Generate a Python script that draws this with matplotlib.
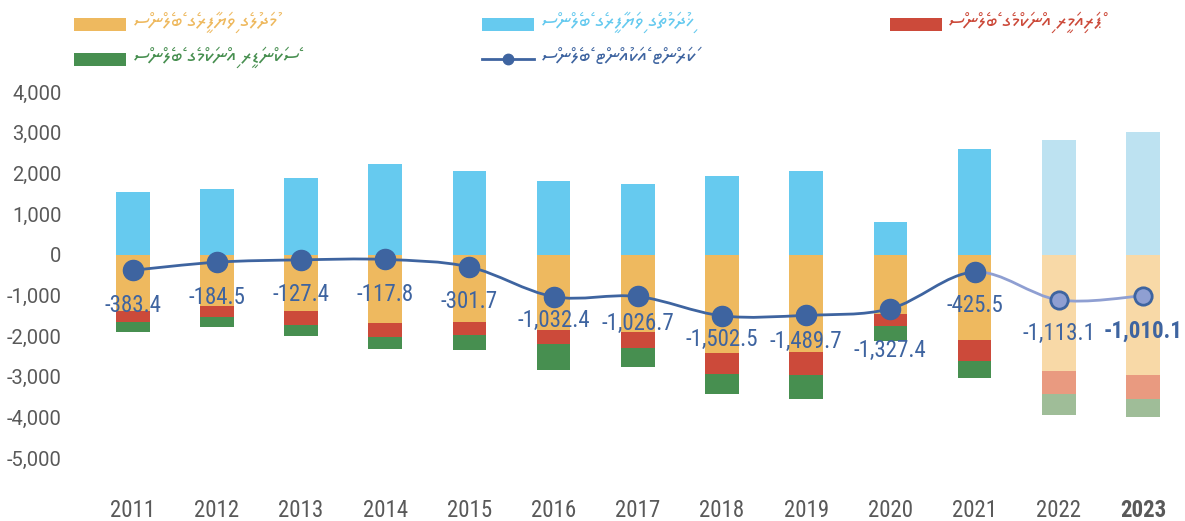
import unicodedata
import matplotlib
matplotlib.use("Agg")
import matplotlib.pyplot as plt
from matplotlib.path import Path
from matplotlib.patches import PathPatch, Rectangle
from matplotlib.lines import Line2D
from matplotlib.ticker import FuncFormatter

# ---------------- data ----------------
years = ['2011', '2012', '2013', '2014', '2015', '2016', '2017',
         '2018', '2019', '2020', '2021', '2022', '2023']
services = [1530, 1615, 1893, 2220, 2049, 1803, 1746, 1926, 2066, 804, 2606, 2828, 3024]
goods = [-1377, -1271, -1377, -1672, -1665, -1844, -1910, -2427, -2402, -1451, -2107, -2852, -2951]
primary = [-288, -261, -352, -352, -319, -352, -377, -499, -566, -312, -499, -566, -590]
secondary = [-236, -255, -280, -287, -359, -632, -474, -492, -573, -352, -426, -516, -459]
current = [-383.4, -184.5, -127.4, -117.8, -301.7, -1032.4, -1026.7,
           -1502.5, -1489.7, -1327.4, -425.5, -1113.1, -1010.1]
projected = [False] * 11 + [True, True]
yticks = [4000, 3000, 2000, 1000, 0, -1000, -2000, -3000, -4000, -5000]

goods_lbl = "މުދަލުގެ ވިޔަފާރީގެ ބެލެންސް"
services_lbl = "ޚިދުމަތުގެ ވިޔަފާރީގެ ބެލެންސް"
primary_lbl = "ޕްރައިމަރީ އިންކަމްގެ ބެލެންސް"
secondary_lbl = "ސެކަންޑަރީ އިންކަމްގެ ބެލެންސް"
current_lbl = "ކަރަންޓް އެކައުންޓް ބެލެންސް"

# label distance below each marker (pixels) - layout only
label_gap_px = [35, 35, 35, 35, 35, 24, 27, 24, 26, 42, 34, 34, 35]

# ---------------- style ----------------
C_BLUE, C_BLUE_L = '#66caef', '#bde2f1'
C_ORANGE, C_ORANGE_L = '#eeb95f', '#f8d9a7'
C_RED, C_RED_L = '#cc4a3a', '#e99a80'
C_GREEN, C_GREEN_L = '#478f50', '#9fbd98'
C_LINE, C_LINE_L = '#3e64a0', '#8f9fd2'
GREY = '#595959'
COND = ['Roboto Condensed', 'Liberation Sans Narrow', 'Roboto', 'DejaVu Sans']
THAANA = ['Noto Sans Thaana', 'FreeSerif', 'DejaVu Sans']


def rtl(s):
    """Reorder a Thaana string for left-to-right glyph placement."""
    clusters = []
    for ch in s:
        if unicodedata.category(ch) == 'Mn' and clusters:
            clusters[-1] += ch
        else:
            clusters.append(ch)
    return ''.join(reversed(clusters))


W, H = 1185, 521
fig = plt.figure(figsize=(W / 100, H / 100), dpi=100)
ax = fig.add_axes([90.6 / W, 1 - 496.7 / H, (W - 90.6) / W, (496.7 - 92) / H])

x = list(range(len(years)))
bw = 0.40


def pick(c, cl):
    return [cl if p else c for p in projected]


ax.bar(x, services, width=bw, color=pick(C_BLUE, C_BLUE_L), zorder=2)
ax.bar(x, goods, width=bw, color=pick(C_ORANGE, C_ORANGE_L), zorder=2)
ax.bar(x, primary, width=bw, bottom=goods, color=pick(C_RED, C_RED_L), zorder=2)
b3 = [g + p for g, p in zip(goods, primary)]
ax.bar(x, secondary, width=bw, bottom=b3, color=pick(C_GREEN, C_GREEN_L), zorder=2)

# smoothed line (Catmull-Rom as cubic Bezier segments)
n = len(x)
for i in range(n - 1):
    p0 = (x[max(i - 1, 0)], current[max(i - 1, 0)])
    p1 = (x[i], current[i])
    p2 = (x[i + 1], current[i + 1])
    p3 = (x[min(i + 2, n - 1)], current[min(i + 2, n - 1)])
    c1 = (p1[0] + (p2[0] - p0[0]) / 6, p1[1] + (p2[1] - p0[1]) / 6)
    c2 = (p2[0] - (p3[0] - p1[0]) / 6, p2[1] - (p3[1] - p1[1]) / 6)
    path = Path([p1, c1, c2, p2], [Path.MOVETO, Path.CURVE4, Path.CURVE4, Path.CURVE4])
    col = C_LINE_L if projected[i + 1] else C_LINE
    ax.add_patch(PathPatch(path, facecolor='none', edgecolor=col, lw=2.0, zorder=3))

for xi, v, p, gap in zip(x, current, projected, label_gap_px):
    if p:
        ax.plot(xi, v, 'o', ms=12.5, mfc=C_LINE_L, mec=C_LINE, mew=2, zorder=4)
    else:
        ax.plot(xi, v, 'o', ms=14.5, mfc=C_LINE, mec=C_LINE, zorder=4)
    ax.annotate(f"{v:,.1f}", (xi, v), xytext=(0, -gap * 0.72), textcoords='offset points',
                ha='center', va='center', fontsize=16.5, color=C_LINE,
                family=COND, fontweight='bold' if xi == n - 1 else 'normal', zorder=5)

ax.set_xlim(-0.5, n - 0.5)
ax.set_ylim(-5950, 4000)
ax.set_yticks(yticks)
ax.yaxis.set_major_formatter(FuncFormatter(lambda v, _: f"{v:,.0f}"))
ax.set_xticks(x)
ax.set_xticklabels(years)
for s in ax.spines.values():
    s.set_visible(False)
ax.tick_params(axis='y', length=0, pad=21, labelsize=14.5, labelcolor=GREY)
ax.tick_params(axis='x', length=0, pad=2, labelsize=16.5, labelcolor=GREY)
for t in ax.get_yticklabels():
    t.set_family(['Roboto', 'DejaVu Sans'])
for t in ax.get_xticklabels():
    t.set_family(COND)
ax.get_xticklabels()[-1].set_fontweight('bold')

# ---------------- legend (manual) ----------------
def fx(px):
    return px / W


def fy(py):
    return 1 - py / H


def patch(x0, x1, y0, y1, color):
    fig.add_artist(Rectangle((fx(x0), fy(y1)), fx(x1) - fx(x0), fy(y0) - fy(y1),
                             transform=fig.transFigure, color=color, lw=0))


def ltext(xp, yp, s, color):
    fig.text(fx(xp), fy(yp), rtl(s), ha='left', va='center', fontsize=15,
             color=color, family=THAANA)


patch(74, 126, 18, 31, C_ORANGE)
ltext(133, 22, goods_lbl, C_ORANGE)
patch(74, 126, 53, 66, C_GREEN)
ltext(133, 57, secondary_lbl, C_GREEN)
patch(482, 534, 18, 31, C_BLUE)
ltext(541, 22, services_lbl, C_BLUE)
fig.add_artist(Line2D([fx(482), fx(534)], [fy(59), fy(59)], transform=fig.transFigure,
                      color=C_LINE, lw=2))
fig.add_artist(Line2D([fx(508)], [fy(59)], transform=fig.transFigure, marker='o',
                      ms=7.5, color=C_LINE))
ltext(541, 57, current_lbl, C_LINE)
patch(890, 942, 18, 31, C_RED)
ltext(948, 22, primary_lbl, C_RED)

fig.savefig('out.png', dpi=100)
